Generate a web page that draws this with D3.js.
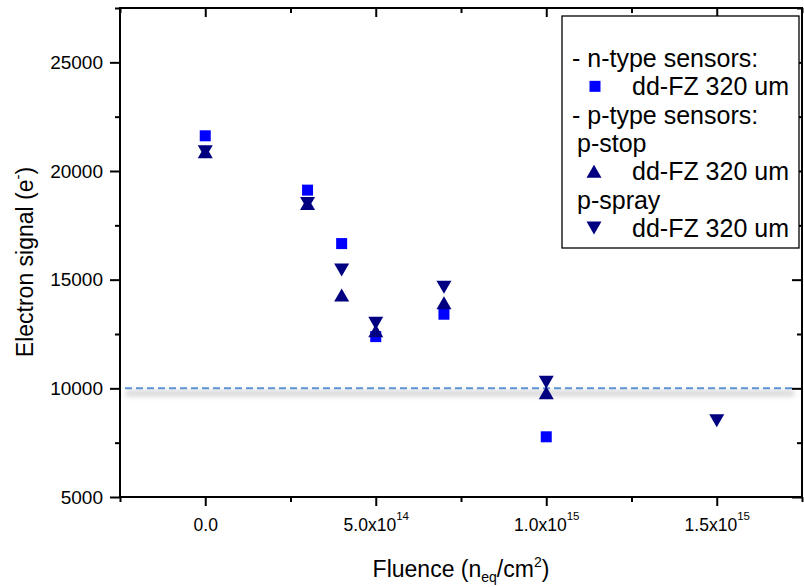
<!DOCTYPE html>
<html>
<head>
<meta charset="utf-8">
<script src="https://cdn.jsdelivr.net/npm/d3@7"></script>
<style>
  body { margin: 0; background: #fff; }
  svg { display: block; font-family: "Liberation Sans", Arial, sans-serif; }
</style>
</head>
<body>
<svg id="chart" width="804" height="587"></svg>
<script>
// data
const fluence = [0, 3e14, 4e14, 5e14, 7e14, 1e15, 1.5e15];
const nType   = [21620, 19120, 16660, 12380, 13410, 7770, null];
const pStop   = [20880, 18500, 14290, 12650, 13940, 9800, null];
const pSpray  = [20880, 18500, 15440, 13000, 14650, 10280, 8510];
const xMajor = [0, 5e14, 1e15, 1.5e15];
const xMinor = [-2.5e14, 2.5e14, 7.5e14, 1.25e15, 1.75e15];
const yMajor = [5000, 10000, 15000, 20000, 25000];
const yMinor = [7500, 12500, 17500, 22500, 27500];
const threshold = 10000;
const legendRows = [
  { text: '- n-type sensors:', marker: null },
  { text: 'dd-FZ 320 um', marker: 'square' },
  { text: '- p-type sensors:', marker: null },
  { text: 'p-stop', marker: null, indent: true },
  { text: 'dd-FZ 320 um', marker: 'up' },
  { text: 'p-spray', marker: null, indent: true },
  { text: 'dd-FZ 320 um', marker: 'down' }
];

const plotL = 120, plotR = 802, plotT = 8, plotB = 497;
const svg = d3.select('#chart');

const x = d3.scaleLinear().domain([-2.5e14, 1.75e15]).range([plotL, plotR]);
const y = d3.scaleLinear().domain([5000, 27500]).range([plotB, plotT]);

const blue = '#0000ff', navy = '#000080';

// shadow filter for threshold line
const defs = svg.append('defs');
defs.append('filter').attr('id', 'blur')
  .attr('filterUnits', 'userSpaceOnUse')
  .attr('x', 0).attr('y', 0).attr('width', 804).attr('height', 587)
  .append('feGaussianBlur').attr('stdDeviation', 2.5);

// threshold line with soft shadow
svg.append('rect')
  .attr('x', plotL + 6).attr('width', plotR - plotL - 14)
  .attr('y', y(threshold) + 2).attr('height', 6)
  .attr('fill', '#d6d6d6')
  .attr('filter', 'url(#blur)');
svg.append('line')
  .attr('x1', plotL + 5).attr('x2', plotR - 7)
  .attr('y1', y(threshold)).attr('y2', y(threshold))
  .attr('stroke', '#5b93d3').attr('stroke-width', 2)
  .attr('stroke-dasharray', '7,4');

// markers
const sq = 11, tw = 15, th = 13;
function triPath(dir) {
  return dir === 'up'
    ? `M0,${-th / 2}L${tw / 2},${th / 2}L${-tw / 2},${th / 2}Z`
    : `M${-tw / 2},${-th / 2}L${tw / 2},${-th / 2}L0,${th / 2}Z`;
}

const pts = (vals) => fluence.map((f, i) => ({ f, v: vals[i] })).filter(d => d.v != null);

svg.append('g').selectAll('rect')
  .data(pts(nType)).enter().append('rect')
  .attr('x', d => x(d.f) - sq / 2)
  .attr('y', d => y(d.v) - sq / 2)
  .attr('width', sq).attr('height', sq)
  .attr('fill', blue);

svg.append('g').selectAll('path')
  .data(pts(pStop)).enter().append('path')
  .attr('d', triPath('up'))
  .attr('transform', d => `translate(${x(d.f)},${y(d.v)})`)
  .attr('fill', navy);

svg.append('g').selectAll('path')
  .data(pts(pSpray)).enter().append('path')
  .attr('d', triPath('down'))
  .attr('transform', d => `translate(${x(d.f)},${y(d.v)})`)
  .attr('fill', navy);

// axes
function styleAxis(g) {
  g.select('.domain').remove();
  g.selectAll('line').attr('stroke', '#000').attr('stroke-width', 2);
  g.selectAll('text').attr('fill', '#000');
  g.attr('font-family', null);
}

const expFmt = (v) => {
  if (v === 0) return ['0.0', null];
  const e = Math.floor(Math.log10(v));
  return [(v / Math.pow(10, e)).toFixed(1) + 'x10', String(e)];
};

// bottom
const gb = svg.append('g').attr('transform', `translate(0,${plotB})`)
  .call(d3.axisBottom(x).tickValues(xMajor).tickSize(9).tickPadding(8).tickFormat(''));
gb.call(styleAxis);
gb.selectAll('.tick text').each(function (d) {
  const [base, ex] = expFmt(d);
  const t = d3.select(this).attr('font-size', 17.5).attr('dy', '0.97em');
  t.append('tspan').text(base);
  if (ex) t.append('tspan').attr('font-size', 11.5).attr('dy', '-0.95em').text(ex);
});
svg.append('g').attr('transform', `translate(0,${plotB})`)
  .call(d3.axisBottom(x).tickValues(xMinor).tickSize(5).tickFormat(''))
  .call(styleAxis);

// top (inward ticks)
svg.append('g').attr('transform', `translate(0,${plotT})`)
  .call(d3.axisBottom(x).tickValues(xMajor).tickSize(9).tickFormat(''))
  .call(styleAxis);
svg.append('g').attr('transform', `translate(0,${plotT})`)
  .call(d3.axisBottom(x).tickValues(xMinor).tickSize(5).tickFormat(''))
  .call(styleAxis);

// left
const gl = svg.append('g').attr('transform', `translate(${plotL},0)`)
  .call(d3.axisLeft(y).tickValues(yMajor).tickSize(10).tickPadding(7).tickFormat(d3.format('d')));
gl.call(styleAxis);
gl.selectAll('.tick text').attr('font-size', 19);
svg.append('g').attr('transform', `translate(${plotL},0)`)
  .call(d3.axisLeft(y).tickValues(yMinor).tickSize(5).tickFormat(''))
  .call(styleAxis);

// right (inward ticks)
svg.append('g').attr('transform', `translate(${plotR},0)`)
  .call(d3.axisLeft(y).tickValues(yMajor).tickSize(10).tickFormat(''))
  .call(styleAxis);
svg.append('g').attr('transform', `translate(${plotR},0)`)
  .call(d3.axisLeft(y).tickValues(yMinor).tickSize(5).tickFormat(''))
  .call(styleAxis);

// frame
svg.append('rect')
  .attr('x', plotL).attr('y', plotT)
  .attr('width', plotR - plotL).attr('height', plotB - plotT)
  .attr('fill', 'none').attr('stroke', '#000').attr('stroke-width', 2);

// axis titles
const xt = svg.append('text').attr('x', 461).attr('y', 577)
  .attr('text-anchor', 'middle').attr('font-size', 23);
xt.append('tspan').text('Fluence (n');
xt.append('tspan').attr('font-size', 14).attr('dy', 5).text('eq');
xt.append('tspan').attr('dy', -5).text('/cm');
xt.append('tspan').attr('font-size', 14).attr('dy', -10).text('2');
xt.append('tspan').attr('dy', 10).text(')');

const yt = svg.append('text')
  .attr('transform', 'translate(33,262) rotate(-90)')
  .attr('text-anchor', 'middle').attr('font-size', 23);
yt.append('tspan').text('Electron signal (e');
yt.append('tspan').attr('font-size', 15).attr('dy', -10).text('-');
yt.append('tspan').attr('dy', 10).text(')');

// legend
const lg = svg.append('g');
lg.append('rect')
  .attr('x', 562).attr('y', 16).attr('width', 237).attr('height', 232)
  .attr('fill', '#fff').attr('stroke', '#000').attr('stroke-width', 1.3);
const rowY = d3.scaleLinear().domain([0, legendRows.length - 1]).range([67, 237]);
legendRows.forEach((r, i) => {
  const by = rowY(i);
  const tx = r.marker ? 632 : (r.indent ? 577 : 572);
  lg.append('text').attr('x', tx).attr('y', by).attr('font-size', 25).attr('fill', '#000').text(r.text);
  const cy = by - 9;
  if (r.marker === 'square') {
    lg.append('rect').attr('x', 595 - sq / 2).attr('y', cy - sq / 2).attr('width', sq).attr('height', sq).attr('fill', blue);
  } else if (r.marker === 'up' || r.marker === 'down') {
    lg.append('path').attr('d', triPath(r.marker)).attr('transform', `translate(594,${cy})`).attr('fill', navy);
  }
});
</script>
</body>
</html>
